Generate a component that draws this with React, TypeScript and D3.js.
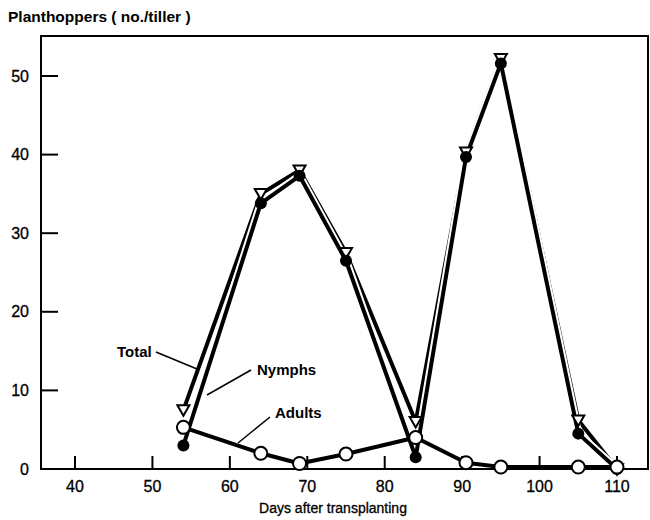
import React from "react";
import * as d3 from "d3";

const days = [54, 64, 69, 75, 84, 90.5, 95, 105, 110];
const totalVals = [7.5, 35, 38, 27.5, 6, 40.3, 52.2, 6.2, 0];
const nymphVals = [3, 33.8, 37.3, 26.5, 1.5, 39.7, 51.6, 4.5, 0];
const adultVals = [5.3, 2.0, 0.7, 1.9, 4.0, 0.8, 0.25, 0.25, 0.25];
const xTicks = [40, 50, 60, 70, 80, 90, 100, 110];
const yTicks = [0, 10, 20, 30, 40, 50];

const FONT = "'Liberation Sans', Arial, sans-serif";

export default function App() {
  const W = 650, H = 520;
  const x = d3.scaleLinear().domain([40, 110]).range([75, 617]);
  const y = d3.scaleLinear().domain([0, 50]).range([469, 76]);
  const left = 41, right = 648, top = 36, bottom = 469;

  const line = d3.line<[number, number]>().x(d => x(d[0])).y(d => y(d[1]));
  const pts = (vals: number[]) => days.map((d, i) => [d, vals[i]] as [number, number]);

  const tri = (cx: number, cy: number, s: number) =>
    `M${cx - s},${cy - s * 0.8}L${cx + s},${cy - s * 0.8}L${cx},${cy + s * 0.95}Z`;

  return (
    <svg width={W} height={H} style={{ position: "absolute", left: 0, top: 0, background: "#fff" }} fontFamily={FONT}>
      <rect x={0} y={0} width={W} height={H} fill="#fff" />
      <text x={8} y={22} fontSize={15.5} fontWeight="bold">Planthoppers ( no./tiller )</text>
      {/* frame */}
      <rect x={left} y={top} width={right - left} height={bottom - top} fill="none" stroke="#000" strokeWidth={2} />
      {yTicks.map(t => (
        <g key={"y" + t}>
          <line x1={left} x2={left + 17} y1={y(t)} y2={y(t)} stroke="#000" strokeWidth={2} />
          <text x={29} y={y(t) + 5.5} fontSize={16} textAnchor="end" stroke="#000" strokeWidth={0.3}>{t}</text>
        </g>
      ))}
      {xTicks.map(t => (
        <g key={"x" + t}>
          <line x1={x(t)} x2={x(t)} y1={bottom} y2={bottom - 13} stroke="#000" strokeWidth={2} />
          <text x={x(t)} y={492} fontSize={16} textAnchor="middle" stroke="#000" strokeWidth={0.3}>{t}</text>
        </g>
      ))}
      <text x={333} y={513} fontSize={14} textAnchor="middle" stroke="#000" strokeWidth={0.3}>Days after transplanting</text>

      {/* Total line */}
      <path d={line(pts(totalVals)) || ""} fill="none" stroke="#fff" strokeWidth={8} strokeLinejoin="round" />
      <path d={line(pts(totalVals)) || ""} fill="none" stroke="#000" strokeWidth={4} strokeLinejoin="round" />
      {/* Nymphs line */}
      <path d={line(pts(nymphVals)) || ""} fill="none" stroke="#fff" strokeWidth={8} strokeLinejoin="round" />
      <path d={line(pts(nymphVals)) || ""} fill="none" stroke="#000" strokeWidth={4} strokeLinejoin="round" />
      {/* Adults line */}
      <path d={line(pts(adultVals)) || ""} fill="none" stroke="#000" strokeWidth={4} strokeLinejoin="round" />

      {pts(totalVals).map((p, i) => (
        <path key={"t" + i} d={tri(x(p[0]), y(p[1]), 6)} fill="#fff" stroke="#000" strokeWidth={2} />
      ))}
      {pts(nymphVals).map((p, i) => (
        <circle key={"n" + i} cx={x(p[0])} cy={y(p[1])} r={6} fill="#000" />
      ))}
      {pts(adultVals).map((p, i) => (
        <circle key={"a" + i} cx={x(p[0])} cy={y(p[1])} r={6.5} fill="#fff" stroke="#000" strokeWidth={2} />
      ))}

      {/* annotations */}
      <text x={117} y={357} fontSize={15} fontWeight="bold">Total</text>
      <line x1={156} y1={352} x2={197} y2={369} stroke="#000" strokeWidth={1.5} />
      <text x={257} y={375} fontSize={15} fontWeight="bold">Nymphs</text>
      <line x1={251} y1={370} x2={207} y2={395} stroke="#000" strokeWidth={1.5} />
      <text x={275} y={418} fontSize={15} fontWeight="bold">Adults</text>
      <line x1={270} y1={417} x2={238} y2={443} stroke="#000" strokeWidth={1.5} />
    </svg>
  );
}
